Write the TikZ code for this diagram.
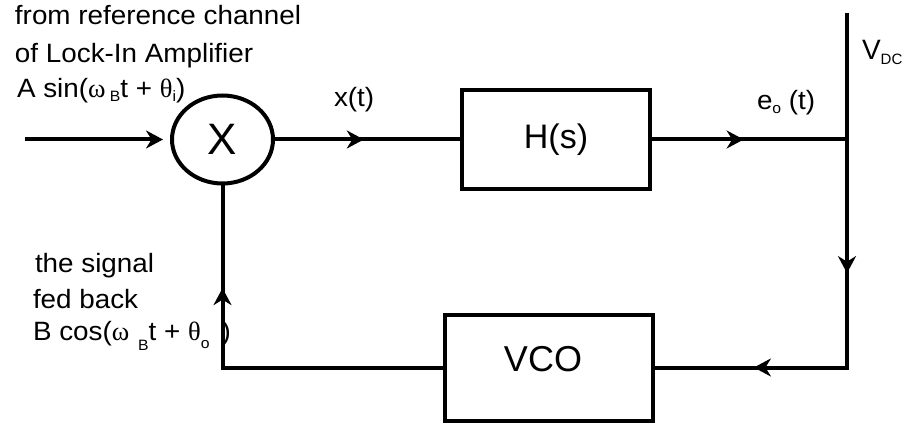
\documentclass[tikz,border=0pt]{standalone}
\usepackage{fontspec}
\setmainfont{Liberation Sans}[FakeStretch=1.05]
\newfontfamily\plain{Liberation Sans}
\newfontfamily\grk{Liberation Serif}
\usetikzlibrary{arrows.meta,shapes.geometric,decorations.markings}
\begin{document}
\begin{tikzpicture}[x=1pt,y=-1pt,
  line width=4pt,
  mytip/.tip={Stealth[length=17pt,width=18pt,inset=5.5pt]},
  midarrow/.style={postaction={decorate},decoration={markings,mark=at position #1 with {\arrow{mytip}}}},
  block/.style={draw,rectangle,inner sep=0pt},
  lbl/.style={inner sep=0pt,anchor=base west,font=\fontsize{26.5}{30}\selectfont},
]
\useasboundingbox (0,0) rectangle (903,425);

\node[draw,ellipse,minimum width=101pt,minimum height=88pt,inner sep=0pt,
      font=\plain\fontsize{44}{44}\selectfont] (mix) at (222.5,139.5) {X};
\node[block,minimum width=188pt,minimum height=99pt,
      font=\plain\fontsize{34}{34}\selectfont] (H) at (556,139.5) {H(s)};
\node[block,minimum width=208pt,minimum height=106pt,text depth=17pt,
      font=\plain\fontsize{36}{36}\selectfont] (vco) at (549,367.5) {VCO\hspace*{12pt}};

\coordinate (in) at (25,139.5);
\coordinate (top) at (847,13);
\coordinate (j) at (847,139.5);
\coordinate (br) at (847,367.5);
\coordinate (bl) at (mix.south |- vco.west);

\draw[-mytip,shorten >=7pt] (in) -- (mix.west);
\draw[midarrow=0.48] (mix.east) -- (H.west);
\draw[midarrow=0.47] (H.east) -- (j);
\draw[line join=miter,postaction={decorate},decoration={markings,
   mark=at position 0.476 with {\arrow{mytip}},
   mark=at position 0.819 with {\arrow{mytip}}}]
   (top) -- (br) -- (vco.east);
\draw[line join=miter,midarrow=0.745] (vco.west) -- (bl) -- (mix.south);

\node[lbl] (t1) at (13,25) {from reference channel};
\node[lbl] (t2) at (13,63) {of Lock-In Amplifier};
\node[lbl] (t3) at (15,98) {A sin({\grk ω}\,\raisebox{-4pt}{\fontsize{15}{15}\selectfont B}t + {\grk θ}\raisebox{-4pt}{\fontsize{15}{15}\selectfont i})};
\node[lbl] (t4) at (33,272) {the signal};
\node[lbl] (t5) at (31,308) {fed back};
\node[lbl] (t6) at (31,340) {B cos({\grk ω}\,\,\raisebox{-10pt}{\fontsize{15}{15}\selectfont B}t + {\grk θ}\raisebox{-8pt}{\fontsize{15}{15}\selectfont o}\, )};
\node[lbl] (xt) at (332,107) {x(t)};
\node[lbl] (eo) at (755,110) {e\raisebox{-4pt}{\fontsize{15}{15}\selectfont o} (t)};
\node[lbl,font=\plain\fontsize{28}{28}\selectfont] (vdc) at (860,60) {V\raisebox{-5pt}{\fontsize{15}{15}\selectfont DC}};
\end{tikzpicture}
\end{document}
